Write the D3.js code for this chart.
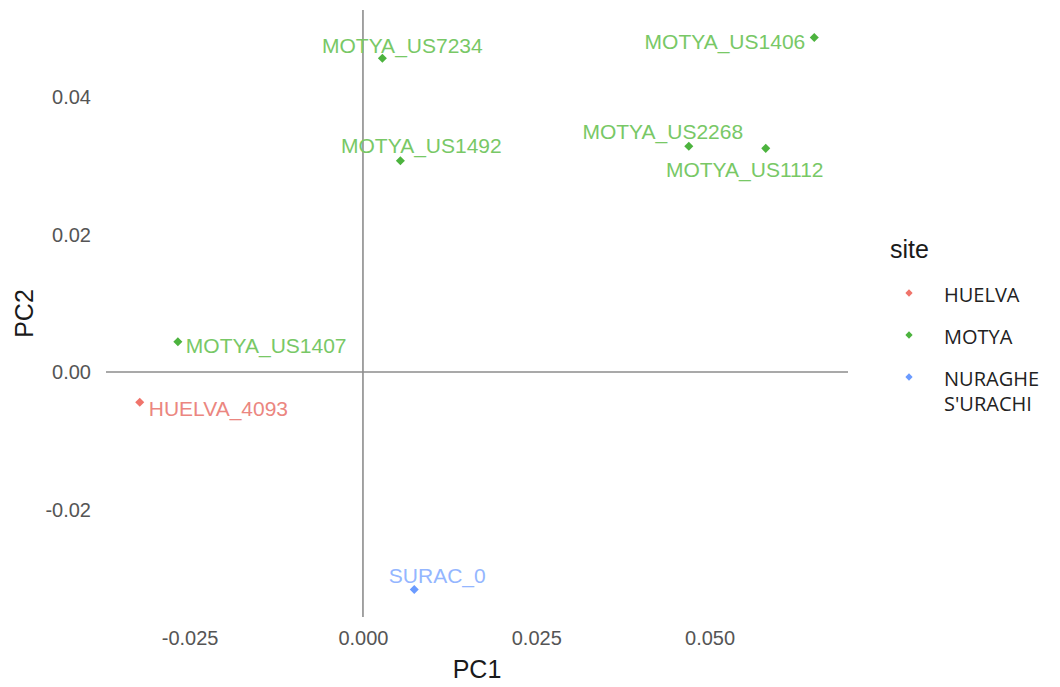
<!DOCTYPE html>
<html>
<head>
<meta charset="utf-8">
<script src="https://cdn.jsdelivr.net/npm/d3@7"></script>
<style>
  html, body { margin: 0; padding: 0; background: #ffffff; }
  svg { display: block; }
</style>
</head>
<body>
<svg id="chart" width="1060" height="687"></svg>
<script>
// PCA scores per sample
const samples = ["MOTYA_US7234", "MOTYA_US1406", "MOTYA_US1492", "MOTYA_US2268",
                 "MOTYA_US1112", "MOTYA_US1407", "HUELVA_4093", "SURAC_0"];
const sites   = ["MOTYA", "MOTYA", "MOTYA", "MOTYA", "MOTYA", "MOTYA", "HUELVA", "NURAGHE S'URACHI"];
const pc1     = [0.0028, 0.0651, 0.0054, 0.0470, 0.0581, -0.0267, -0.0322, 0.0074];
const pc2     = [0.0456, 0.0486, 0.0307, 0.0328, 0.0325, 0.0044, -0.0044, -0.0316];

// legend levels and tick values
const siteLevels  = ["HUELVA", "MOTYA", "NURAGHE S'URACHI"];
const siteColors  = ["#F0746B", "#4CB33E", "#6B9BFF"];
const labelColors = ["#EB8680", "#78C866", "#94B6FF"];
const xTicks = [-0.025, 0, 0.025, 0.05];
const yTicks = [-0.02, 0, 0.02, 0.04];

const data = samples.map((s, i) => ({ name: s, site: sites[i], x: pc1[i], y: pc2[i] }));

// label placement (repelled text offsets in px, relative to each point)
const labelPlacement = {
  "MOTYA_US7234": { dx: 20,  dy: -13, anchor: "middle" },
  "MOTYA_US1406": { dx: -9,  dy: 4,   anchor: "end" },
  "MOTYA_US1492": { dx: 21,  dy: -15, anchor: "middle" },
  "MOTYA_US2268": { dx: -26, dy: -15, anchor: "middle" },
  "MOTYA_US1112": { dx: -21, dy: 21,  anchor: "middle" },
  "MOTYA_US1407": { dx: 8,   dy: 4,   anchor: "start" },
  "HUELVA_4093":  { dx: 9,   dy: 6,   anchor: "start" },
  "SURAC_0":      { dx: 23,  dy: -14, anchor: "middle" }
};

const svg = d3.select("#chart");
const panel = { left: 106, right: 848, top: 10, bottom: 617 };

// ggplot-style 5% expansion of the data range
function expand(ext) {
  const pad = (ext[1] - ext[0]) * 0.05;
  return [ext[0] - pad, ext[1] + pad];
}
const x = d3.scaleLinear().domain(expand(d3.extent(pc1))).range([panel.left, panel.right]);
const y = d3.scaleLinear().domain(expand(d3.extent(pc2))).range([panel.bottom, panel.top]);
const color = d3.scaleOrdinal().domain(siteLevels).range(siteColors);
const labelColor = d3.scaleOrdinal().domain(siteLevels).range(labelColors);

// tick formats with a plain hyphen for negatives
const hyphen = f => v => f(v).replace("\u2212", "-");

// zero reference lines across the panel
svg.append("line")
  .attr("x1", panel.left).attr("x2", panel.right)
  .attr("y1", y(0)).attr("y2", y(0))
  .attr("stroke", "#8c8c8c").attr("stroke-width", 1.6);
svg.append("line")
  .attr("x1", x(0)).attr("x2", x(0))
  .attr("y1", panel.top).attr("y2", panel.bottom)
  .attr("stroke", "#8c8c8c").attr("stroke-width", 1.6);

// axes (text only, no domain or tick marks)
const xAxis = svg.append("g")
  .attr("transform", `translate(0,${panel.bottom + 14})`)
  .call(d3.axisBottom(x).tickValues(xTicks).tickFormat(hyphen(d3.format(".3f"))).tickSize(0));
const yAxis = svg.append("g")
  .attr("transform", `translate(${panel.left - 15},0)`)
  .call(d3.axisLeft(y).tickValues(yTicks).tickFormat(hyphen(d3.format(".2f"))).tickSize(0));
[xAxis, yAxis].forEach(g => {
  g.select(".domain").remove();
  g.selectAll("text")
    .attr("fill", "#555555")
    .style("font-family", "'Liberation Sans', Arial, sans-serif")
    .style("font-size", "20px");
});
xAxis.selectAll("text").attr("y", 0).attr("dy", "0.71em");
yAxis.selectAll("text").attr("x", 0).attr("dy", "0.35em");

// axis titles
svg.append("text")
  .attr("x", (panel.left + panel.right) / 2).attr("y", 678)
  .attr("text-anchor", "middle")
  .attr("fill", "#1a1a1a")
  .style("font-family", "'Liberation Sans', Arial, sans-serif")
  .style("font-size", "25px")
  .text("PC1");
svg.append("text")
  .attr("transform", `translate(33,${(panel.top + panel.bottom) / 2}) rotate(-90)`)
  .attr("text-anchor", "middle")
  .attr("fill", "#1a1a1a")
  .style("font-family", "'Liberation Sans', Arial, sans-serif")
  .style("font-size", "25px")
  .text("PC2");

// points
const diamond = d3.symbol().type(d3.symbolDiamond2).size(52);
svg.append("g").selectAll("path")
  .data(data)
  .join("path")
  .attr("d", diamond)
  .attr("transform", d => `translate(${x(d.x)},${y(d.y)})`)
  .attr("fill", d => color(d.site));

// sample labels
svg.append("g").selectAll("text")
  .data(data)
  .join("text")
  .attr("x", d => x(d.x) + labelPlacement[d.name].dx)
  .attr("y", d => y(d.y) + labelPlacement[d.name].dy)
  .attr("dy", "0.35em")
  .attr("text-anchor", d => labelPlacement[d.name].anchor)
  .attr("fill", d => labelColor(d.site))
  .style("font-family", "'Liberation Sans', Arial, sans-serif")
  .style("font-size", "21px")
  .text(d => d.name);

// legend
const legend = svg.append("g").attr("transform", "translate(890,0)");
legend.append("text")
  .attr("x", 0).attr("y", 249).attr("dy", "0.35em")
  .attr("fill", "#1a1a1a")
  .style("font-family", "'Liberation Sans', Arial, sans-serif")
  .style("font-size", "25px")
  .text("site");
const keyY = d3.scalePoint().domain(siteLevels).range([293, 377]);
const keyDiamond = d3.symbol().type(d3.symbolDiamond2).size(34);
const items = legend.selectAll("g.item")
  .data(siteLevels)
  .join("g")
  .attr("class", "item")
  .attr("transform", d => `translate(0,${keyY(d)})`);
items.append("path")
  .attr("d", keyDiamond)
  .attr("transform", "translate(19,0)")
  .attr("fill", d => color(d));
// each word of a level name on its own line
items.each(function(d) {
  d3.select(this).selectAll("text.line")
    .data(d.split(" "))
    .join("text")
    .attr("class", "line")
    .attr("x", 54)
    .attr("y", (w, i) => 2 + i * 25)
    .attr("dy", "0.35em")
    .attr("fill", "#222222")
    .style("font-family", "'Open Sans', sans-serif")
    .style("font-size", "20px")
    .text(w => w);
});
</script>
</body>
</html>
